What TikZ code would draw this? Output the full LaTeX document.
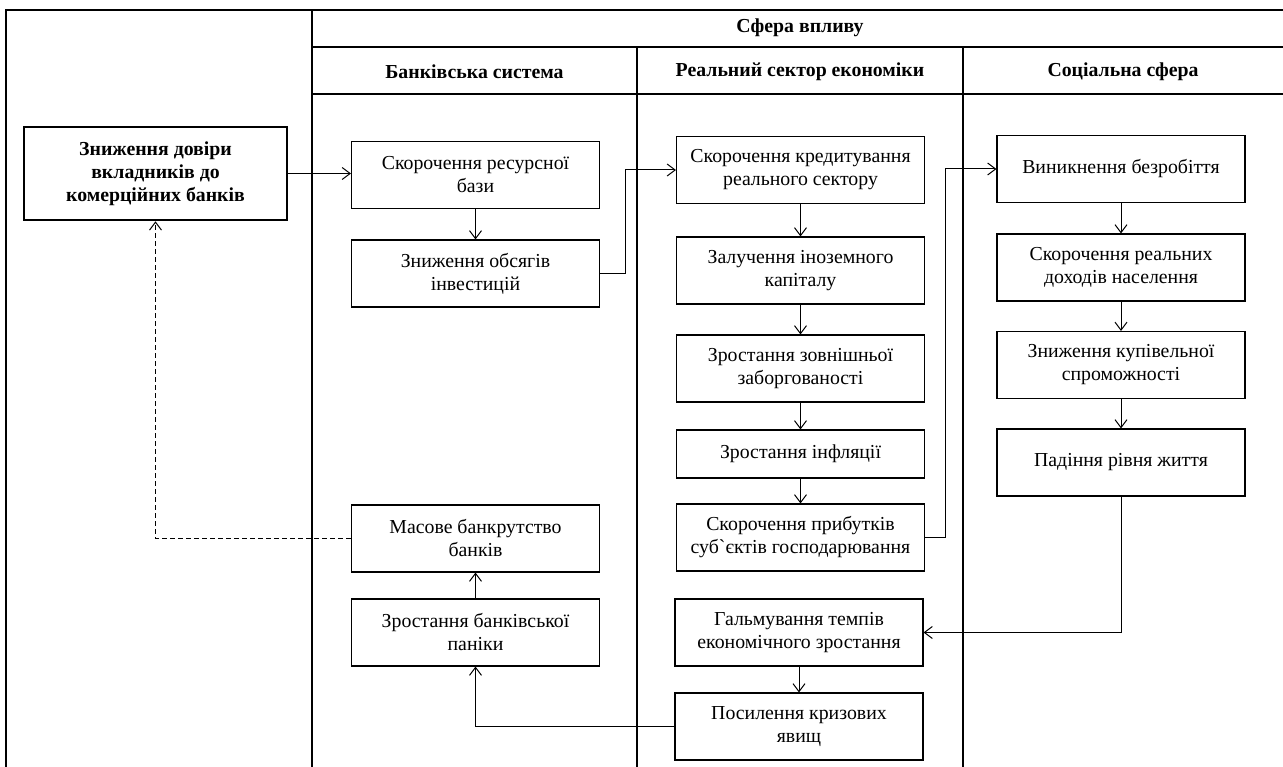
\documentclass[tikz,border=0pt]{standalone}
\usepackage{fontspec}
\setmainfont{Liberation Serif}
\usetikzlibrary{arrows.meta}
\begin{document}
\begin{tikzpicture}[x=1pt,y=-1pt,>={Straight Barb[length=8pt,width=12pt]}]
	\tikzstyle{box}=[draw,line width=1.1pt,minimum width=248pt,minimum height=67pt,inner sep=1pt,align=center,font=\fontsize{19.8}{23}\selectfont]
	\tikzstyle{head}=[font=\fontsize{19.8}{23}\selectfont\bfseries]
	\tikzstyle{grid}=[line width=2pt]
	\tikzstyle{edge}=[draw,line width=1pt]
	\useasboundingbox (0,0) rectangle (1283,767);
	% table frame
	\draw[grid] (6,767) -- (6,10) -- (1283,10);
	\draw[grid] (312,10) -- (312,767);
	\draw[grid] (312,47) -- (1283,47);
	\draw[grid] (312,94) -- (1283,94);
	\draw[grid] (637,47) -- (637,767);
	\draw[grid] (963,47) -- (963,767);
	\node [head] (sphere) at (800,28) {Сфера впливу};
	\node [head] (hbank) at (474.5,72) {Банківська система};
	\node [head] (hreal) at (800,72) {Реальний сектор економіки};
	\node [head] (hsoc) at (1123,72) {Соціальна сфера};

	\node [box,line width=2.6pt,minimum width=263pt,minimum height=93pt,font=\fontsize{19.8}{23}\selectfont\bfseries] (trust) at (155.5,173.5) {Зниження довіри\\вкладників до\\комерційних банків};

	% banking system
	\node [box] (res) at (475.5,175) {Скорочення ресурсної\\бази};
	\node [box] (inv) at (475.5,273.5) {Зниження обсягів\\інвестицій};
	\node [box] (bankr) at (475.5,538.5) {Масове банкрутство\\банків};
	\node [box] (panic) at (475.5,632.5) {Зростання банківської\\паніки};

	% real sector
	\node [box] (credit) at (800.5,170) {Скорочення кредитування\\реального сектору};
	\node [box] (foreign) at (800.5,270.5) {Залучення іноземного\\капіталу};
	\node [box] (debt) at (800.5,368.5) {Зростання зовнішньої\\заборгованості};
	\node [box,minimum height=48pt] (infl) at (800.5,454) {Зростання інфляції};
	\node [box] (profit) at (800.5,537.5) {Скорочення прибутків\\суб\textasciigrave єктів господарювання};
	\node [box] (brake) at (799,632.5) {Гальмування темпів\\економічного зростання};
	\node [box] (crisis) at (799,726.5) {Посилення кризових\\явищ};

	% social sphere
	\node [box] (unemp) at (1121,169) {Виникнення безробіття};
	\node [box] (income) at (1121,267.5) {Скорочення реальних\\доходів населення};
	\node [box] (power) at (1121,365) {Зниження купівельної\\спроможності};
	\node [box] (living) at (1121,462.5) {Падіння рівня життя};

	\path[edge,->] (trust.east) -- (trust.east -| res.west);
	\path[edge,->] (res) -- (inv);
	\path[edge,->] (inv.east) -- ++(25,0) |- (credit.west);
	\path[edge,->] (credit) -- (foreign);
	\path[edge,->] (foreign) -- (debt);
	\path[edge,->] (debt) -- (infl);
	\path[edge,->] (infl) -- (profit);
	\path[edge,->] (profit.east) -- ++(20,0) |- (unemp.west);
	\path[edge,->] (unemp) -- (income);
	\path[edge,->] (income) -- (power);
	\path[edge,->] (power) -- (living);
	\path[edge,->] (living.south) |- (brake.east);
	\path[edge,->] (brake) -- (crisis);
	\path[edge,->] (crisis.west) -| (panic.south);
	\path[edge,->] (panic) -- (bankr);
	\path[edge,->,dash pattern=on 5pt off 3pt] (bankr.west) -| (trust.south);
\end{tikzpicture}
\end{document}
